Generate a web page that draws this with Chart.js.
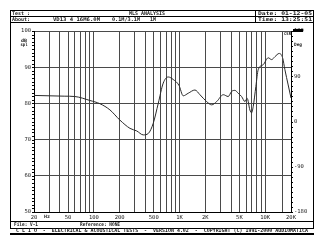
<!DOCTYPE html>
<html>
<head>
<meta charset="utf-8">
<script src="https://cdn.jsdelivr.net/npm/chart.js@4/dist/chart.umd.min.js"></script>
<style>
html,body{margin:0;padding:0;background:#fff;}
#wrap{position:relative;width:325px;height:250px;}
canvas{display:block;}
</style>
</head>
<body>
<div id="wrap"><canvas id="c" width="325" height="250"></canvas></div>
<script>
// ---- data ----
const freqs = [20,30,45,60,90,118,154,201,264,316,377,432,493,564,645,738,844,984,1104,1262,1513,1730,2070,2370,2710,3240,3700,4050,4430,4840,5300,5800,6160,6620,6930,7240,7780,8280,9480,10840,11880,12980,14560,15960,16980,18540,20000];
const splDb = [82.2,82.1,82.0,81.9,80.8,79.9,78.2,75.4,73.1,72.4,71.3,71.7,74.5,80.0,85.6,87.3,86.6,85.0,82.1,82.8,83.7,82.4,80.5,79.6,80.5,82.4,81.9,83.3,83.6,82.8,81.9,80.5,81.4,78.2,77.4,79.1,84.7,89.3,90.7,92.6,92.1,92.9,93.8,92.6,89.3,85.1,81.5];
const gridFreqs = [20,30,40,50,60,70,80,90,100,200,300,400,500,600,700,800,900,1000,2000,3000,4000,5000,6000,7000,8000,9000,10000,20000];
const xLabelValues = [20,50,100,200,500,1000,2000,5000,10000,20000];
const xLabelTexts = ['20','50','100','200','500','1K','2K','5K','10K','20K'];
const yTicks = [50,60,70,80,90,100];
const phaseTicks = [-180,-90,0,90,180];
const cursorFreq = 15800;
const headerRow1 = ['Test :','MLS ANALYSIS','Date: 01-12-05'];
const headerRow2 = ['About:','VD13 4 16M6.0M','0.1M/3.1M','1M','Time: 13:25:51'];
const fileText = 'File: V-1';
const refText = 'Reference: NONE';
const footerText = 'C L I O  -  ELECTRICAL & ACOUSTICAL TESTS  -  VERSION 4.02  -  COPYRIGHT (C) 1991-2000 AUDIOMATICA';

const MONO = '"DejaVu Sans Mono", "Liberation Mono", monospace';
const GRID = '#4a4a4a';

function fitText(ctx, text, x, y, w, size){
  ctx.save();
  ctx.font = 'bold ' + size + 'px ' + MONO;
  ctx.textBaseline = 'middle';
  ctx.textAlign = 'left';
  ctx.fillStyle = '#1a1a1a';
  const m = ctx.measureText(text).width;
  ctx.translate(x, y);
  ctx.scale(w / m, 1);
  ctx.fillText(text, 0, 0);
  ctx.restore();
}

const chrome = {
  id: 'chrome',
  afterDraw(chart){
    const ctx = chart.ctx, a = chart.chartArea;
    const xs = chart.scales.x;
    ctx.save();
    ctx.strokeStyle = '#000';
    ctx.fillStyle = '#000';
    ctx.lineWidth = 1;
    // header box
    ctx.strokeRect(10.5, 10.5, 303, 12);
    ctx.beginPath();
    ctx.moveTo(10, 16.5); ctx.lineTo(314, 16.5);
    ctx.moveTo(255.5, 10); ctx.lineTo(255.5, 22);
    // frame sides
    ctx.moveTo(10.5, 22); ctx.lineTo(10.5, 229);
    ctx.moveTo(313.5, 22); ctx.lineTo(313.5, 229);
    // file row & footer lines
    ctx.moveTo(10, 221.5); ctx.lineTo(314, 221.5);
    ctx.moveTo(10, 228.5); ctx.lineTo(314, 228.5);
    ctx.stroke();
    ctx.fillRect(10, 233, 304, 2);
    // header texts
    fitText(ctx, headerRow1[0], 12, 14, 18, 5);
    fitText(ctx, headerRow1[1], 129, 14, 36, 5);
    fitText(ctx, headerRow1[2], 258, 14, 54, 5);
    fitText(ctx, headerRow2[0], 12, 19.8, 18, 5);
    fitText(ctx, headerRow2[1], 53, 19.8, 47, 5);
    fitText(ctx, headerRow2[2], 112, 19.8, 28, 5);
    fitText(ctx, headerRow2[3], 150, 19.8, 6, 5);
    fitText(ctx, headerRow2[4], 258, 19.8, 54, 5);
    // file row and footer
    fitText(ctx, fileText, 14, 225.2, 24, 5);
    fitText(ctx, refText, 80, 225.2, 40, 5);
    fitText(ctx, footerText, 16, 231, 292, 5);
    // unit labels
    fitText(ctx, 'dB', 21, 40.5, 6, 4.5);
    fitText(ctx, 'spl', 20.5, 44.5, 7, 4.5);
    fitText(ctx, 'Deg', 294, 45, 8, 4.5);
    fitText(ctx, 'Hz', 44, 217, 6, 4.5);
    // top right marker
    ctx.fillRect(293, 29, 10, 3);
    // cursor line
    const cx = Math.round(xs.getPixelForValue(cursorFreq)) + 0.5;
    ctx.strokeStyle = GRID;
    ctx.beginPath();
    ctx.moveTo(cx, a.top); ctx.lineTo(cx, a.bottom);
    ctx.stroke();
    ctx.strokeStyle = '#000';
    fitText(ctx, 'CSR', cx + 1.5, 33.5, 7, 4);
    // minor ticks on left and right axes
    ctx.beginPath();
    const yl = chart.scales.y, yr = chart.scales.y2;
    for (let v = 50; v <= 100; v += 1){
      const py = Math.round(yl.getPixelForValue(v)) + 0.5;
      ctx.moveTo(a.left - 2, py); ctx.lineTo(a.left, py);
    }
    for (let v = -180; v <= 180; v += 10){
      const py = Math.round(yr.getPixelForValue(v)) + 0.5;
      ctx.moveTo(a.right, py); ctx.lineTo(a.right + 2, py);
    }
    ctx.stroke();
    ctx.restore();
  }
};

const labelOf = {};
xLabelValues.forEach((v, i) => labelOf[v] = xLabelTexts[i]);

new Chart(document.getElementById('c'), {
  type: 'line',
  data: {
    datasets: [{
      data: freqs.map((f, i) => ({x: f, y: splDb[i]})),
      borderColor: '#2a2a2a',
      borderWidth: 1,
      pointRadius: 0,
      fill: false,
      cubicInterpolationMode: 'monotone'
    }]
  },
  options: {
    responsive: false,
    animation: false,
    devicePixelRatio: 1,
    layout: {padding: {top: 31, left: 0, right: 0, bottom: 0}},
    plugins: {legend: {display: false}, tooltip: {enabled: false}},
    scales: {
      x: {
        type: 'logarithmic',
        min: 20, max: 20000,
        afterBuildTicks: s => { s.ticks = gridFreqs.map(v => ({value: v})); },
        afterFit: s => { s.height = 38; },
        grid: {color: GRID, lineWidth: 1, drawTicks: false},
        border: {color: '#000', width: 1},
        ticks: {
          autoSkip: false, maxRotation: 0, padding: 2,
          color: '#1a1a1a',
          font: {family: MONO, size: 5.5},
          callback: v => labelOf[v] || ''
        }
      },
      y: {
        position: 'left',
        min: 50, max: 100,
        afterBuildTicks: s => { s.ticks = yTicks.map(v => ({value: v})); },
        afterFit: s => { s.width = 34; },
        grid: {color: GRID, lineWidth: 1, drawTicks: false},
        border: {color: '#000', width: 1},
        ticks: {
          padding: 3, color: '#1a1a1a',
          font: {family: MONO, size: 5.5},
          callback: v => String(v)
        }
      },
      y2: {
        position: 'right',
        min: -180, max: 180,
        afterBuildTicks: s => { s.ticks = phaseTicks.map(v => ({value: v})); },
        afterFit: s => { s.width = 34; },
        grid: {drawOnChartArea: false, drawTicks: false},
        border: {color: '#000', width: 1},
        ticks: {
          padding: 3, color: '#1a1a1a',
          font: {family: MONO, size: 5.5},
          callback: v => String(v)
        }
      }
    }
  },
  plugins: [chrome]
});
</script>
</body>
</html>
